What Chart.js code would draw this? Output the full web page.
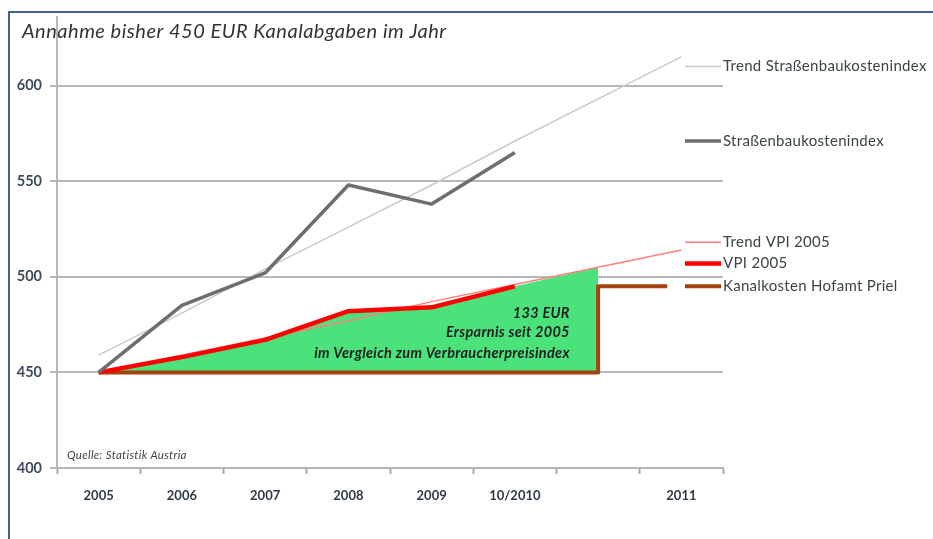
<!DOCTYPE html>
<html lang="de">
<head>
<meta charset="UTF-8">
<title>Kanalabgaben</title>
<script src="https://cdn.jsdelivr.net/npm/chart.js@4"></script>
<style>
  html, body { margin: 0; padding: 0; background: #fff; }
  #wrap { position: relative; width: 933px; height: 539px; overflow: hidden; }
  #frame { position: absolute; left: 8px; top: 11px; right: -4px; bottom: -4px;
           border-top: 2px solid #3d6596; border-left: 2px solid #3d6596; pointer-events: none; }
  canvas { position: absolute; left: 0; top: 0; }
</style>
</head>
<body>
<div id="wrap">
  <canvas id="chart" width="933" height="539" style="width:933px;height:539px"></canvas>
  <div id="frame"></div>
</div>
<script>
// x categories (index 6 has no label in the original)
const xLabels = ['2005', '2006', '2007', '2008', '2009', '10/2010', '', '2011'];

const strassen      = [450, 485, 502, 548, 538, 565];
const vpi           = [450, 458, 467, 482, 484, 495];
const trendStrassen = [459, 481, 504, 526, 548, 571, 593, 615];
const trendVpi      = [450, 459, 468, 477, 487, 496, 505, 514];

// Kanalkosten Hofamt Priel: flat 450, step up to 495
const kanalX = [0, 6, 6, 6.83];
const kanalY = [450, 450, 495, 495];

const titleText = 'Annahme bisher 450 EUR Kanalabgaben im Jahr';
const sourceText = 'Quelle: Statistik Austria';
const noteLines = ['133 EUR', 'Ersparnis seit 2005', 'im Vergleich zum Verbraucherpreisindex'];
const noteX = 5.66;
const noteY = [481, 471, 460];

const legendNames = ['Trend Straßenbaukostenindex', 'Straßenbaukostenindex', 'Trend VPI 2005', 'VPI 2005', 'Kanalkosten Hofamt Priel'];
const legendAt = [610, 571, 518, 507, 495];
const legendDs = [3, 0, 4, 1, 2];

const pts = (arr) => arr.map((v, i) => ({ x: i, y: v }));
const savings = pts(vpi.concat([trendVpi[6]]));

const extraText = {
  id: 'extraText',
  afterDatasetsDraw(chart) {
    const { ctx, chartArea: a, scales: { x, y } } = chart;
    ctx.save();
    ctx.textBaseline = 'middle';

    // title
    ctx.fillStyle = '#333';
    ctx.font = 'italic 20px Lato';
    ctx.letterSpacing = '0.5px';
    ctx.textAlign = 'left';
    ctx.fillText(titleText, 22, 32);

    // source
    ctx.font = 'italic 11.5px Lato';
    ctx.letterSpacing = '0.3px';
    ctx.fillStyle = '#444';
    ctx.fillText(sourceText, a.left + 10, a.bottom - 13);

    // savings note
    ctx.font = 'italic bold 14.5px Lato';
    ctx.letterSpacing = '0.3px';
    ctx.fillStyle = '#222';
    ctx.textAlign = 'right';
    noteLines.forEach((t, i) => ctx.fillText(t, x.getPixelForValue(noteX), y.getPixelForValue(noteY[i])));

    // legend at the right
    ctx.textAlign = 'left';
    ctx.font = '15px Lato';
    ctx.letterSpacing = '0.3px';
    legendNames.forEach((name, i) => {
      const ds = chart.data.datasets[legendDs[i]];
      const py = y.getPixelForValue(legendAt[i]);
      ctx.strokeStyle = ds.borderColor;
      ctx.lineWidth = ds.borderWidth;
      ctx.beginPath();
      ctx.moveTo(a.right - 38, py);
      ctx.lineTo(a.right - 2, py);
      ctx.stroke();
      ctx.fillStyle = '#3c4448';
      ctx.fillText(name, a.right, py);
    });
    ctx.restore();
  }
};

new Chart(document.getElementById('chart'), {
  type: 'line',
  data: {
    datasets: [
      { label: 'Straßenbaukostenindex', data: pts(strassen), borderColor: '#6e6e6e', borderWidth: 3.5 },
      { label: 'VPI 2005', data: pts(vpi), borderColor: '#ff0000', borderWidth: 4.5 },
      { label: 'Kanalkosten Hofamt Priel', data: kanalX.map((v, i) => ({ x: v, y: kanalY[i] })), borderColor: '#a3420e', borderWidth: 4 },
      { label: 'Trend Straßenbaukostenindex', data: pts(trendStrassen), borderColor: '#cacaca', borderWidth: 1.5 },
      { label: 'Trend VPI 2005', data: pts(trendVpi), borderColor: '#ff7f7f', borderWidth: 1.5 },
      { label: 'Ersparnis', data: savings, borderWidth: 0, borderColor: 'rgba(0,0,0,0)',
        backgroundColor: '#4ce27b', fill: { value: 450 } }
    ]
  },
  options: {
    responsive: false,
    animation: false,
    elements: { point: { radius: 0 }, line: { tension: 0, borderJoinStyle: 'round', borderCapStyle: 'butt' } },
    layout: { padding: { top: 13, right: 210, left: 0, bottom: 0 } },
    plugins: { legend: { display: false }, tooltip: { enabled: false } },
    scales: {
      x: {
        type: 'linear', min: -0.5, max: 7.5,
        afterFit: (s) => { s.height = 71; },
        ticks: {
          stepSize: 0.5, autoSkip: false, maxRotation: 0, padding: 14,
          color: '#2f3a48', font: { family: 'Lato', size: 13, weight: 'bold' },
          callback: (v) => Number.isInteger(v) ? xLabels[v] : ''
        },
        grid: {
          drawOnChartArea: false, drawTicks: true, tickLength: 6, tickWidth: 2,
          tickColor: (c) => (c.tick && Number.isInteger(c.tick.value)) ? 'rgba(0,0,0,0)' : '#ababab'
        },
        border: { color: '#b4b4b4', width: 2 }
      },
      y: {
        min: 400, max: 636,
        afterFit: (s) => { s.width = 57; },
        ticks: {
          stepSize: 50, includeBounds: false, padding: 8,
          color: '#3d4a5c', font: { family: 'Lato', size: 14.5, weight: 'bold' }
        },
        grid: { color: '#b8b8b8', lineWidth: 2, tickLength: 7 },
        border: { color: '#b8b8b8', width: 2 }
      }
    }
  },
  plugins: [extraText]
});
</script>
</body>
</html>
